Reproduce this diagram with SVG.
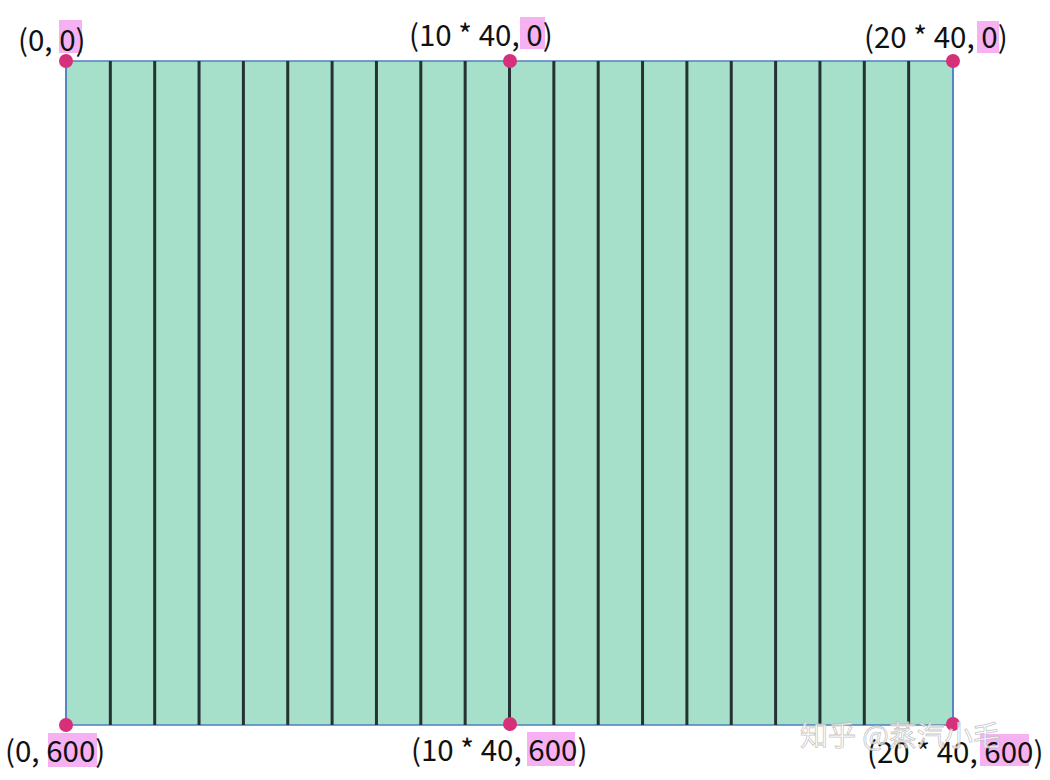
<svg xmlns="http://www.w3.org/2000/svg" width="1050" height="780" viewBox="0 0 1050 780">
<style>
.lbl{font-family:"Noto Sans CJK SC","Noto Sans",sans-serif;font-size:29.5px;fill:#111}
.hl{fill:#f6b1f2}
.pt{fill:#d6307a}
.col{stroke:#263232;stroke-width:3}
.wm{font-family:"Noto Sans CJK SC",sans-serif;font-size:28px;fill:#ffffff;fill-opacity:0.75;stroke:#b8b8b8;stroke-width:0.8;stroke-opacity:0.8}
</style>
<rect width="1050" height="780" fill="#ffffff"/>
<g id="grid">
<rect x="66" y="61" width="887" height="664" fill="#a6e0cb" stroke="#4d80bf" stroke-width="1.5"/>
<g class="col">
<line x1="110.35" y1="61" x2="110.35" y2="725"/>
<line x1="154.7" y1="61" x2="154.7" y2="725"/>
<line x1="199.05" y1="61" x2="199.05" y2="725"/>
<line x1="243.4" y1="61" x2="243.4" y2="725"/>
<line x1="287.75" y1="61" x2="287.75" y2="725"/>
<line x1="332.1" y1="61" x2="332.1" y2="725"/>
<line x1="376.45" y1="61" x2="376.45" y2="725"/>
<line x1="420.8" y1="61" x2="420.8" y2="725"/>
<line x1="465.15" y1="61" x2="465.15" y2="725"/>
<line x1="509.5" y1="61" x2="509.5" y2="725"/>
<line x1="553.85" y1="61" x2="553.85" y2="725"/>
<line x1="598.2" y1="61" x2="598.2" y2="725"/>
<line x1="642.55" y1="61" x2="642.55" y2="725"/>
<line x1="686.9" y1="61" x2="686.9" y2="725"/>
<line x1="731.25" y1="61" x2="731.25" y2="725"/>
<line x1="775.6" y1="61" x2="775.6" y2="725"/>
<line x1="819.95" y1="61" x2="819.95" y2="725"/>
<line x1="864.3" y1="61" x2="864.3" y2="725"/>
<line x1="908.65" y1="61" x2="908.65" y2="725"/>
</g>
<line x1="66" y1="61" x2="66" y2="725" stroke="#4d80bf" stroke-width="1.5"/>
<line x1="953" y1="61" x2="953" y2="725" stroke="#4d80bf" stroke-width="1.5"/>
</g>
<g id="p-tl">
<rect class="hl" x="59" y="20" width="23" height="33"/>
<circle class="pt" cx="66" cy="61" r="7"/>
<text class="lbl" x="18" y="51">(0, 0)</text>
</g>
<g id="p-tm">
<rect class="hl" x="520" y="17" width="25" height="32"/>
<circle class="pt" cx="510" cy="61" r="7"/>
<text class="lbl" x="409" y="46">(10 * 40, 0)</text>
</g>
<g id="p-tr">
<rect class="hl" x="977" y="21" width="22" height="32"/>
<circle class="pt" cx="953" cy="61" r="7"/>
<text class="lbl" x="864" y="48">(20 * 40, 0)</text>
</g>
<g id="p-bl">
<rect class="hl" x="48" y="733" width="49" height="34"/>
<circle class="pt" cx="66" cy="725" r="7"/>
<text class="lbl" x="5" y="762">(0, 600)</text>
</g>
<g id="p-bm">
<rect class="hl" x="527" y="732" width="48" height="34"/>
<circle class="pt" cx="510" cy="724" r="7"/>
<text class="lbl" x="411" y="761">(10 * 40, 600)</text>
</g>
<g id="p-br">
<rect class="hl" x="980" y="734" width="49" height="32"/>
<circle class="pt" cx="953" cy="724" r="7"/>
<text class="lbl" x="867" y="763">(20 * 40, 600)</text>
</g>
<text class="wm" x="800" y="746">知乎 @蒸汽小毛</text>
</svg>
